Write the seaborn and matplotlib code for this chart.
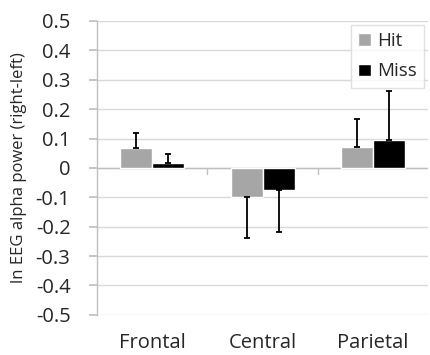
import matplotlib
matplotlib.use("Agg")
import matplotlib.pyplot as plt
import seaborn as sns
import pandas as pd
import numpy as np

regions = ["Frontal", "Central", "Parietal"]
conditions = ["Hit", "Miss"]
hit_values = [0.068, -0.099, 0.071]
miss_values = [0.017, -0.075, 0.095]
hit_errors = [0.050, 0.140, 0.096]
miss_errors = [0.031, 0.143, 0.167]
yticks = [0.5, 0.4, 0.3, 0.2, 0.1, 0, -0.1, -0.2, -0.3, -0.4, -0.5]
ytick_labels = ["0.5", "0.4", "0.3", "0.2", "0.1", "0", "-0.1", "-0.2", "-0.3", "-0.4", "-0.5"]

df = pd.DataFrame({
    "region": regions * 2,
    "condition": ["Hit"] * 3 + ["Miss"] * 3,
    "value": hit_values + miss_values,
    "err": hit_errors + miss_errors,
})

sns.set_theme(style="white")
plt.rcParams['font.family'] = ['Open Sans', 'DejaVu Sans']

fig = plt.figure(figsize=(4.3, 3.55), dpi=100)
ax = fig.add_axes([0.2256, 0.113, 0.77, 0.828])

palette = {"Hit": "#a6a6a6", "Miss": "#000000"}
sns.barplot(data=df, x="region", y="value", hue="condition", order=regions,
            hue_order=conditions, palette=palette, width=0.58, errorbar=None,
            saturation=1, ax=ax, zorder=3)

# error bars (one-sided, outward)
for cont, cond in zip(ax.containers, conditions):
    sub = df[df.condition == cond].set_index("region").loc[regions]
    for patch, (_, row) in zip(cont.patches, sub.iterrows()):
        xc = patch.get_x() + patch.get_width() / 2
        v = row["value"]
        e = row["err"]
        if v >= 0:
            yerr = [[0], [e]]
        else:
            yerr = [[e], [0]]
        ax.errorbar(xc, v, yerr=yerr, fmt="none", ecolor="black",
                    elinewidth=1.3, capsize=2, capthick=1.3, zorder=4)

ax.set_ylim(-0.5, 0.5)
ax.set_xlim(-0.5, 2.5)
ax.set_yticks(yticks)
ax.set_yticklabels(ytick_labels, fontsize=14.5)
ax.yaxis.grid(True, color="#d9d9d9", linewidth=1, zorder=0)
ax.set_axisbelow(True)

for s in ["top", "right", "bottom"]:
    ax.spines[s].set_visible(False)
ax.spines["left"].set_color("#bfbfbf")
ax.spines["left"].set_linewidth(1)
ax.tick_params(axis="y", left=True, length=6, color="#bfbfbf", pad=13)

# category axis at zero
ax.axhline(0, color="#bfbfbf", linewidth=1, zorder=2)
ax.set_xticks([])
for xb in [0.5, 1.5]:
    ax.plot([xb, xb], [0, -0.02], color="#bfbfbf", linewidth=1, zorder=2)
for i, r in enumerate(regions):
    ax.text(i, -0.56, r, ha="center", va="top", fontsize=14.5,
            transform=ax.transData)

ax.set_xlabel("")
ax.set_ylabel("ln EEG alpha power (right-left)", fontsize=12, labelpad=6)

leg = ax.legend(loc="upper right", bbox_to_anchor=(1.0, 1.0), frameon=True,
                fontsize=13.5, handlelength=0.65, handleheight=0.65,
                handletextpad=0.35, borderpad=0.4, labelspacing=0.65,
                borderaxespad=0.2, fancybox=False, edgecolor="#d9d9d9")
leg.get_frame().set_linewidth(1)
leg.set_title(None)

fig.savefig("out.png", dpi=100)
